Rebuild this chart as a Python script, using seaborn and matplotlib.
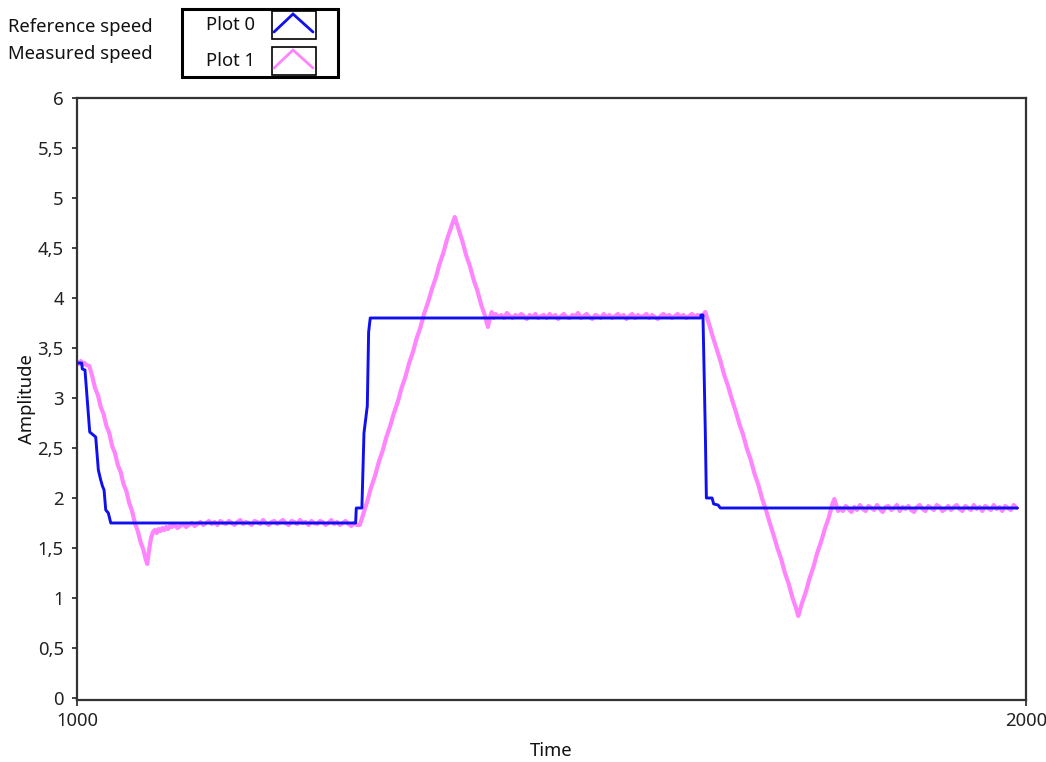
import numpy as np
import pandas as pd
import matplotlib
matplotlib.use("Agg")
import matplotlib.pyplot as plt
from matplotlib.ticker import FuncFormatter, FixedLocator
from matplotlib.patches import Rectangle
import seaborn as sns

# ---- reference speed (step profile) ----
ref_time = [1000, 1004.9, 1005.6, 1008.4, 1013.4, 1019.7, 1022.5, 1025, 1026.8,
            1028.5, 1030.3, 1033, 1035.6, 1293.6, 1294.3, 1300.2, 1302.4,
            1305.9, 1307.3, 1309, 1657, 1657.5, 1659.6, 1662.1, 1663.2, 1669.2,
            1670.9, 1675.5, 1677.9, 1991]
ref_speed = [3.35, 3.35, 3.29, 3.28, 2.66, 2.61, 2.28, 2.18, 2.12,
             2.08, 1.88, 1.85, 1.75, 1.75, 1.90, 1.90, 2.65,
             2.92, 3.66, 3.80, 3.80, 3.83, 3.83, 2.65, 2.00, 2.00,
             1.94, 1.93, 1.90, 1.90]

# ---- measured speed ----
dip_time = [1000, 1002, 1004, 1006, 1008, 1010, 1013, 1016, 1019, 1022, 1025,
            1028, 1031, 1034, 1037, 1040, 1043, 1046, 1049, 1052, 1055, 1058,
            1061, 1064, 1067, 1070, 1072, 1074, 1076, 1078, 1080, 1082, 1084,
            1086, 1088, 1090, 1092, 1094, 1096, 1098]
dip_speed = [3.36, 3.34, 3.37, 3.33, 3.35, 3.33, 3.32, 3.22, 3.10, 3.03, 2.91,
             2.84, 2.72, 2.65, 2.52, 2.45, 2.33, 2.26, 2.14, 2.07, 1.95, 1.87,
             1.75, 1.67, 1.56, 1.48, 1.40, 1.34, 1.48, 1.60, 1.66, 1.68, 1.65,
             1.69, 1.67, 1.70, 1.68, 1.71, 1.69, 1.72]

low_start = 1100
low_speed = [1.71, 1.73, 1.70, 1.72, 1.74, 1.71, 1.73, 1.75, 1.72, 1.74,
             1.76, 1.73, 1.75, 1.77, 1.74, 1.76, 1.73, 1.77, 1.75, 1.74,
             1.77, 1.75, 1.73, 1.76, 1.78, 1.74, 1.76, 1.75, 1.73, 1.77,
             1.76, 1.74, 1.78, 1.75, 1.73, 1.76, 1.77, 1.74, 1.76, 1.78,
             1.75, 1.73, 1.77, 1.76, 1.74, 1.78, 1.75, 1.76, 1.73, 1.77,
             1.75, 1.74, 1.77, 1.76, 1.73, 1.75, 1.78, 1.74, 1.76, 1.73,
             1.75, 1.77, 1.74, 1.72, 1.75, 1.73]

rise_time = [1298, 1302, 1306, 1310, 1314, 1318, 1322, 1326, 1330, 1334, 1338,
             1342, 1346, 1350, 1354, 1358, 1362, 1366, 1370, 1374, 1378, 1382,
             1386, 1390, 1394, 1398, 1402, 1406, 1410, 1414, 1418, 1422, 1426,
             1430, 1433, 1435, 1437, 1439]
rise_speed = [1.73, 1.85, 1.97, 2.11, 2.22, 2.36, 2.47, 2.61, 2.72, 2.85, 2.96,
              3.10, 3.21, 3.35, 3.46, 3.60, 3.71, 3.85, 3.96, 4.09, 4.20, 4.34,
              4.45, 4.59, 4.70, 4.81, 4.69, 4.57, 4.43, 4.32, 4.18, 4.07, 3.93,
              3.82, 3.71, 3.80, 3.86, 3.80]

high_start = 1441
high_speed = [3.84, 3.81, 3.83, 3.80, 3.85, 3.82, 3.80, 3.83, 3.81, 3.84,
              3.82, 3.79, 3.83, 3.81, 3.84, 3.80, 3.82, 3.83, 3.80, 3.84,
              3.81, 3.83, 3.79, 3.82, 3.84, 3.81, 3.80, 3.83, 3.82, 3.85,
              3.80, 3.82, 3.84, 3.81, 3.79, 3.83, 3.82, 3.80, 3.84, 3.81,
              3.83, 3.80, 3.82, 3.84, 3.81, 3.83, 3.79, 3.82, 3.84, 3.80,
              3.83, 3.81, 3.82, 3.84, 3.80, 3.83, 3.81, 3.79, 3.82, 3.84,
              3.81, 3.83, 3.80, 3.82, 3.84, 3.81, 3.83, 3.80, 3.82, 3.84,
              3.81, 3.83, 3.82]

fall_time = [1660, 1662, 1666, 1670, 1674, 1678, 1682, 1686, 1690, 1694, 1698,
             1702, 1706, 1710, 1714, 1718, 1722, 1726, 1730, 1734, 1738, 1742,
             1746, 1750, 1754, 1758, 1760, 1764, 1768, 1772, 1776, 1780, 1784,
             1788, 1792, 1796, 1798, 1800, 1802]
fall_speed = [3.83, 3.86, 3.74, 3.61, 3.49, 3.37, 3.23, 3.12, 2.99, 2.87, 2.74,
              2.63, 2.49, 2.38, 2.24, 2.13, 1.99, 1.88, 1.75, 1.63, 1.50, 1.39,
              1.25, 1.14, 1.00, 0.89, 0.82, 0.95, 1.06, 1.20, 1.31, 1.45, 1.56,
              1.69, 1.80, 1.94, 1.99, 1.93, 1.87]

end_start = 1804
end_speed = [1.90, 1.87, 1.92, 1.89, 1.86, 1.91, 1.88, 1.93, 1.89, 1.87,
             1.92, 1.90, 1.88, 1.93, 1.89, 1.86, 1.91, 1.92, 1.88, 1.90,
             1.93, 1.87, 1.91, 1.89, 1.92, 1.88, 1.86, 1.91, 1.93, 1.89,
             1.87, 1.92, 1.90, 1.88, 1.93, 1.91, 1.87, 1.89, 1.92, 1.88,
             1.91, 1.93, 1.89, 1.87, 1.92, 1.90, 1.88, 1.93, 1.89, 1.91,
             1.87, 1.92, 1.90, 1.88, 1.93, 1.89, 1.91, 1.87, 1.92, 1.90,
             1.88, 1.93, 1.90]

sample_step = 3
y_ticks = [0, 0.5, 1, 1.5, 2, 2.5, 3, 3.5, 4, 4.5, 5, 5.5, 6]
x_ticks = [1000, 2000]
series_names = ["Reference speed", "Measured speed"]
legend_names = ["Plot 0", "Plot 1"]


def grid(start, values):
    return list(start + sample_step * np.arange(len(values)))


meas_time = (dip_time + grid(low_start, low_speed) + rise_time
             + grid(high_start, high_speed) + fall_time + grid(end_start, end_speed))
meas_speed = dip_speed + low_speed + rise_speed + high_speed + fall_speed + end_speed

ref_df = pd.DataFrame({"Time": ref_time, "Amplitude": ref_speed})
meas_df = pd.DataFrame({"Time": meas_time, "Amplitude": meas_speed})

sns.set_theme(style="white")
plt.rcParams["font.family"] = ["Noto Sans", "DejaVu Sans"]

BLUE = "#1010EE"
PINK = "#FF85FF"
W, H = 1046, 762
FS = 13.3

fig = plt.figure(figsize=(W / 100, H / 100), dpi=100)
ax = fig.add_axes([77 / W, 1 - 700 / H, (1026 - 77) / W, (700 - 98) / H])

sns.lineplot(data=meas_df, x="Time", y="Amplitude", ax=ax, color=PINK,
             lw=3.0, estimator=None, sort=False, zorder=2)
sns.lineplot(data=ref_df, x="Time", y="Amplitude", ax=ax, color=BLUE,
             lw=2.1, estimator=None, sort=False, zorder=3)

ax.set_xlim(1000, 2000)
ax.set_ylim(-0.02, 6.0)
ax.xaxis.set_major_locator(FixedLocator(x_ticks))
ax.yaxis.set_major_locator(FixedLocator(y_ticks))
ax.yaxis.set_major_formatter(FuncFormatter(lambda v, _: f"{v:g}".replace(".", ",")))
ax.tick_params(axis="y", direction="out", length=3.5, width=1.2, pad=6,
               labelsize=FS, colors="#222222", left=True)
ax.tick_params(axis="x", direction="out", length=4, width=1.2, pad=5,
               labelsize=FS, colors="#222222", bottom=True)
for s in ax.spines.values():
    s.set_color("#333333")
    s.set_linewidth(1.6)
ax.set_xlabel("Time", fontsize=FS, color="#111111", labelpad=8)
ax.set_ylabel("Amplitude", fontsize=FS, color="#111111", labelpad=1)

# legend block drawn in pixel coordinates
ov = fig.add_axes([0, 0, 1, 1], zorder=5)
ov.set_xlim(0, W)
ov.set_ylim(H, 0)
ov.axis("off")
ov.patch.set_alpha(0)

ov.text(8, 27, series_names[0], fontsize=FS, va="center", ha="left", color="#111111")
ov.text(8, 54, series_names[1], fontsize=FS, va="center", ha="left", color="#111111")
ov.add_patch(Rectangle((182, 9), 156, 68, fill=True, facecolor="white",
                       edgecolor="black", lw=2.2))
for i, (name, col) in enumerate(zip(legend_names, [BLUE, PINK])):
    yc = 25 + i * 36
    ov.text(231, yc, name, fontsize=FS, va="center", ha="center", color="#111111")
    ov.add_patch(Rectangle((272, yc - 14), 44, 28, fill=False, edgecolor="black", lw=1.2))
    ov.plot([274, 293, 313], [yc + 7, yc - 11, yc + 7], color=col, lw=2.0,
            solid_joinstyle="miter")

fig.savefig("out.png", dpi=100)
